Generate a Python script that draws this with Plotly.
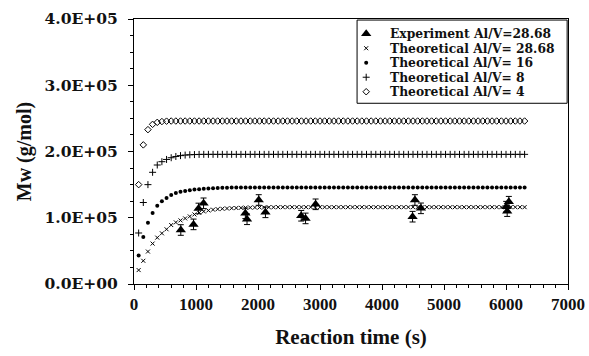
import plotly.graph_objects as go

# ---------------- data ----------------
TIME = [75, 150, 225, 300, 375, 450, 525, 600, 675, 750,
        825, 900, 975, 1050, 1125, 1200, 1275, 1350, 1425, 1500,
        1575, 1650, 1725, 1800, 1875, 1950, 2025, 2100, 2175, 2250,
        2325, 2400, 2475, 2550, 2625, 2700, 2775, 2850, 2925, 3000,
        3075, 3150, 3225, 3300, 3375, 3450, 3525, 3600, 3675, 3750,
        3825, 3900, 3975, 4050, 4125, 4200, 4275, 4350, 4425, 4500,
        4575, 4650, 4725, 4800, 4875, 4950, 5025, 5100, 5175, 5250,
        5325, 5400, 5475, 5550, 5625, 5700, 5775, 5850, 5925, 6000,
        6075, 6150, 6225, 6300]

MW_AL_28 = [21000, 35000, 49000, 61000, 70000, 76500, 82600, 89000, 93000, 96000,
            99000, 102000, 105000, 107500, 109500, 111000, 112200, 113000, 113600, 114000,
            114400, 114700, 115000, 115200, 115400, 115500, 115600, 115700, 115800, 115900,
            116000, 116000, 116000, 116000, 116000, 116000, 116000, 116000, 116000, 116000,
            116000, 116000, 116000, 116000, 116000, 116000, 116000, 116000, 116000, 116000,
            116000, 116000, 116000, 116000, 116000, 116000, 116000, 116000, 116000, 116000,
            116000, 116000, 116000, 116000, 116000, 116000, 116000, 116000, 116000, 116000,
            116000, 116000, 116000, 116000, 116000, 116000, 116000, 116000, 116000, 116000,
            116000, 116000, 116000, 116000]

MW_AL_16 = [43000, 71000, 92500, 107000, 118000, 125000, 130000, 134300, 137400, 139300,
            140500, 141500, 142500, 143200, 143800, 144300, 144700, 145000, 145200, 145400,
            145500, 145500, 145500, 145500, 145500, 145500, 145500, 145500, 145500, 145500,
            145500, 145500, 145500, 145500, 145500, 145500, 145500, 145500, 145500, 145500,
            145500, 145500, 145500, 145500, 145500, 145500, 145500, 145500, 145500, 145500,
            145500, 145500, 145500, 145500, 145500, 145500, 145500, 145500, 145500, 145500,
            145500, 145500, 145500, 145500, 145500, 145500, 145500, 145500, 145500, 145500,
            145500, 145500, 145500, 145500, 145500, 145500, 145500, 145500, 145500, 145500,
            145500, 145500, 145500, 145500]

MW_AL_8 = [77000, 123000, 150000, 168600, 179600, 184600, 188000, 190600, 192500, 193800,
           194600, 195100, 195400, 195600, 195700, 195700, 195700, 195700, 195700, 195700,
           195700, 195700, 195700, 195700, 195700, 195700, 195700, 195700, 195700, 195700,
           195700, 195700, 195700, 195700, 195700, 195700, 195700, 195700, 195700, 195700,
           195700, 195700, 195700, 195700, 195700, 195700, 195700, 195700, 195700, 195700,
           195700, 195700, 195700, 195700, 195700, 195700, 195700, 195700, 195700, 195700,
           195700, 195700, 195700, 195700, 195700, 195700, 195700, 195700, 195700, 195700,
           195700, 195700, 195700, 195700, 195700, 195700, 195700, 195700, 195700, 195700,
           195700, 195700, 195700, 195700]

MW_AL_4 = [150000, 210000, 233000, 241000, 244000, 245200, 245800, 246000, 246000, 246000,
           246000, 246000, 246000, 246000, 246000, 246000, 246000, 246000, 246000, 246000,
           246000, 246000, 246000, 246000, 246000, 246000, 246000, 246000, 246000, 246000,
           246000, 246000, 246000, 246000, 246000, 246000, 246000, 246000, 246000, 246000,
           246000, 246000, 246000, 246000, 246000, 246000, 246000, 246000, 246000, 246000,
           246000, 246000, 246000, 246000, 246000, 246000, 246000, 246000, 246000, 246000,
           246000, 246000, 246000, 246000, 246000, 246000, 246000, 246000, 246000, 246000,
           246000, 246000, 246000, 246000, 246000, 246000, 246000, 246000, 246000, 246000,
           246000, 246000, 246000, 246000]

EXP_TIME = [755, 960, 1041, 1122, 1796, 1823, 2012, 2120, 2697, 2767, 2929,
            4493, 4531, 4628, 6003, 6019, 6046]
EXP_MW = [81500, 90000, 114000, 121800, 106700, 97700, 126800, 108200, 103000, 99000, 120300,
          101600, 126800, 114200, 116700, 110000, 124200]
EXP_ERR = [8000, 8000, 8000, 8000, 8000, 8000, 8000, 8000, 8000, 8000, 8000,
           8000, 8000, 8000, 8000, 8000, 8000]

Y_TICKS = [0, 100000, 200000, 300000, 400000]
Y_TICK_LABELS = ["0.0E+00", "1.0E+05", "2.0E+05", "3.0E+05", "4.0E+05"]
X_TICKS = [0, 1000, 2000, 3000, 4000, 5000, 6000, 7000]

NAMES = ["Experiment Al/V=28.68", "Theoretical Al/V= 28.68", "Theoretical Al/V= 16",
         "Theoretical Al/V= 8", "Theoretical Al/V= 4"]

# ---------------- styles ----------------
FONT = "Liberation Serif"
WIDE_FONT = "DejaVu Serif"
INK = "#111111"
STYLES = [
    dict(symbol="triangle-up", size=9, color="black"),
    dict(symbol="x-thin", size=4, color="black", line=dict(width=1, color="black")),
    dict(symbol="circle", size=4, color="black"),
    dict(symbol="cross-thin", size=5, color="black", line=dict(width=1, color="black")),
    dict(symbol="diamond-open", size=5, color="black", line=dict(width=1, color="black")),
]
SERIES = [MW_AL_28, MW_AL_16, MW_AL_8, MW_AL_4]

# legend box placement (fractions of the plot area: 434 x 265 px)
LEG_X0, LEG_X1, LEG_Y0, LEG_Y1 = 0.514, 0.998, 0.682, 0.996
LEG_KEY_X, LEG_TEXT_X = 0.535, 0.586
LEG_ROW_PX = 14.5
LEG_ROW_STEP = LEG_ROW_PX / 265    # one legend row, in plot fractions
LEG_MID = 0.835                    # centre of the middle row
LEG_ROWS = [LEG_MID + (2 - i) * LEG_ROW_STEP for i in range(5)]
LEG_BASE_SIZE = LEG_ROW_PX / 1.3   # sets plotly's line spacing to one legend row
LEG_GLYPH_SIZE = 12.3              # visible size of the legend text

fig = go.Figure()

for i, ys in enumerate(SERIES):
    fig.add_trace(go.Scatter(x=TIME, y=ys, mode="markers", name=NAMES[i + 1],
                             marker=STYLES[i + 1], showlegend=False))
fig.add_trace(go.Scatter(
    x=EXP_TIME, y=EXP_MW, mode="markers", name=NAMES[0], showlegend=False,
    marker=STYLES[0],
    error_y=dict(type="data", array=EXP_ERR, visible=True, color="black", thickness=1, width=3)))

# legend keys drawn on an overlay axis in plot-area fractions
for i, name in enumerate(NAMES):
    fig.add_trace(go.Scatter(x=[LEG_KEY_X], y=[LEG_ROWS[i]], mode="markers",
                             marker=STYLES[i], xaxis="x2", yaxis="y2",
                             showlegend=False, hoverinfo="skip", cliponaxis=False))

legend_text = "<br>".join(
    f'<span style="font-size:{LEG_GLYPH_SIZE}px">{n}</span>' for n in NAMES)
fig.add_annotation(x=LEG_TEXT_X, y=LEG_MID, xref="x domain", yref="y domain",
                   text=legend_text, showarrow=False, xanchor="left", yanchor="middle",
                   align="left",
                   font=dict(family=WIDE_FONT, size=LEG_BASE_SIZE, color=INK, weight="bold"))

fig.add_shape(type="rect", xref="x domain", yref="y domain",
              x0=LEG_X0, x1=LEG_X1, y0=LEG_Y0, y1=LEG_Y1,
              line=dict(color="black", width=1), fillcolor="white", layer="below")

axis_common = dict(
    showline=True, linecolor="black", linewidth=1, mirror=True,
    ticks="outside", tickcolor="black", ticklen=5, tickwidth=1,
    showgrid=False, zeroline=False,
)

xaxis = dict(
    range=[0, 7000], tickmode="array", tickvals=X_TICKS,
    tickfont=dict(family=FONT, size=17, color=INK, weight="bold"),
    minor=dict(dtick=200, ticks="outside", ticklen=3, tickcolor="black"),
    title=dict(text="Reaction time (s)", font=dict(family=FONT, size=21, color=INK, weight="bold"),
               standoff=15),
    **axis_common)
yaxis = dict(
    range=[0, 400000], tickmode="array", tickvals=Y_TICKS, ticktext=Y_TICK_LABELS,
    tickfont=dict(family=WIDE_FONT, size=15.5, color=INK, weight="bold"),
    ticklabelstandoff=7,
    minor=dict(dtick=25000, ticks="outside", ticklen=3, tickcolor="black"),
    title=dict(text="Mw (g/mol)", font=dict(family=FONT, size=20, color=INK, weight="bold"),
               standoff=7),
    **axis_common)

fig.update_layout(
    width=589, height=356,
    margin=dict(l=134, r=21, t=19, b=72, autoexpand=False),
    paper_bgcolor="white", plot_bgcolor="white",
    font=dict(family=FONT, color=INK, weight="bold"),
    showlegend=False,
    xaxis=xaxis, yaxis=yaxis,
    xaxis2=dict(overlaying="x", range=[0, 1], visible=False, fixedrange=True),
    yaxis2=dict(overlaying="y", range=[0, 1], visible=False, fixedrange=True, anchor="x2"),
)

fig.write_html("out.html")
